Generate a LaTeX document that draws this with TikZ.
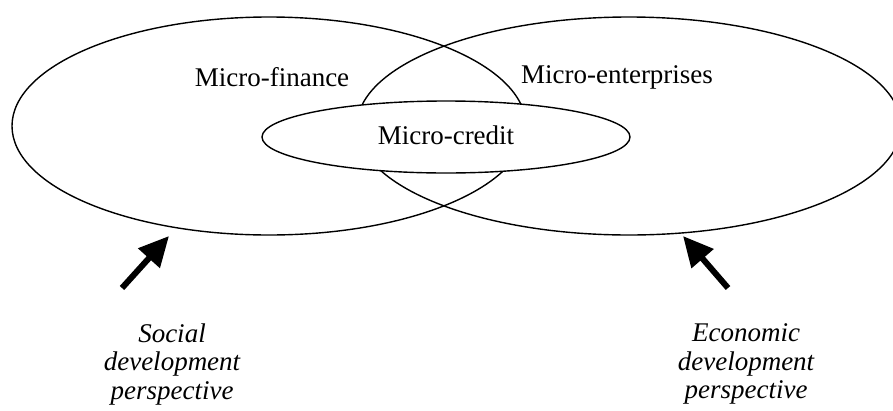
\documentclass[tikz,border=0pt]{standalone}
\usepackage{fontspec}
\setmainfont{Liberation Serif}
\usetikzlibrary{arrows.meta}

\begin{document}
\begin{tikzpicture}[x=1pt,y=-1pt]
            \useasboundingbox (0,0) rectangle (893,410);
            \begin{scope}[line width=1.4pt]
                \draw (269,126) ellipse [x radius=257, y radius=109];
                \draw (629,126) ellipse [x radius=272, y radius=109];
                \draw[fill=white] (446,137) ellipse [x radius=184, y radius=36];
            \end{scope}
            \begin{scope}[every node/.style={font=\fontsize{27}{30}\selectfont}]
                \node (finance) at (272,77) {Micro-finance};
                \node (enterprises) at (617,77) {Micro-enterprises};
                \node (credit) at (446,135) {Micro-credit};
            \end{scope}
            \begin{scope}[every node/.style={align=center,font=\itshape\fontsize{27}{28.5}\selectfont}]
                \node (social) at (172,364) {Social\\development\\perspective};
                \node (economic) at (746,364) {Economic\\development\\perspective};
            \end{scope}
            \coordinate (socialtail) at (122,288);
            \coordinate (socialtip) at (169,236);
            \coordinate (economictail) at (728,288);
            \coordinate (economictip) at (683,236);
            \begin{scope}[line width=6pt,-{Triangle[length=30pt,width=28pt]}]
                \path
                    (socialtail) edge (socialtip)
                    (economictail) edge (economictip);
            \end{scope}
        \end{tikzpicture}
\end{document}
